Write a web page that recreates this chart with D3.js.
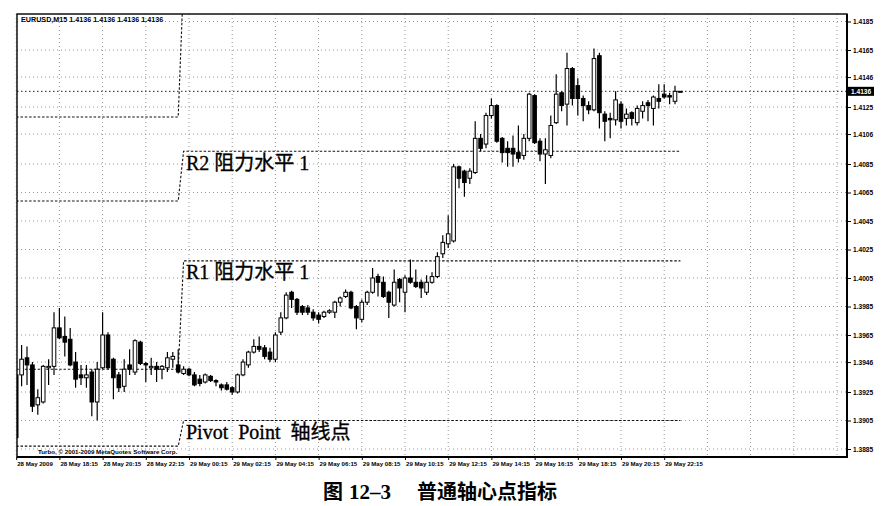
<!DOCTYPE html>
<html>
<head>
<meta charset="utf-8">
<script src="https://cdn.jsdelivr.net/npm/d3@7"></script>
<style>
body{margin:0;background:#fff;}
</style>
</head>
<body>
<div class="chart"></div>
<script>
//candle data, EURUSD M15, 28 May 16:15 -> 29 May 23:00
const opens = [1.3937,1.3937,1.3949,1.3944,1.3916,1.3918,1.3942,1.3943,1.3970,1.3964,
1.3962,1.3946,1.3937,1.3935,1.3939,1.3918,1.3942,1.3965,1.3948,1.3937,
1.3929,1.3944,1.3939,1.3960,1.3945,1.3942,1.3943,1.3941,1.3942,1.3948,
1.3944,1.3938,1.3941,1.3937,1.3934,1.3932,1.3936,1.3933,1.3930,1.3930,
1.3928,1.3925,1.3937,1.3944,1.3953,1.3957,1.3956,1.3953,1.3948,1.3967,
1.3977,1.3995,1.3990,1.3985,1.3984,1.3981,1.3979,1.3978,1.3981,1.3981,
1.3988,1.3992,1.3995,1.3985,1.3976,1.3988,1.3995,1.4006,1.4002,1.3995,
1.3986,1.4004,1.3995,1.4005,1.4002,1.4002,1.3995,1.4002,1.4006,1.4022,
1.4029,1.4031,1.4083,1.4080,1.4075,1.4079,1.4103,1.4099,1.4119,1.4126,
1.4103,1.4096,1.4096,1.4093,1.4091,1.4103,1.4133,1.4101,1.4092,1.4091,
1.4114,1.4135,1.4127,1.4152,1.4140,1.4131,1.4126,1.4123,1.4161,1.4120,
1.4117,1.4116,1.4127,1.4117,1.4121,1.4114,1.4122,1.4128,1.4124,1.4131,
1.4134,1.4133,1.4129,1.4136];
const highs = [1.3939,1.3958,1.3957,1.3946,1.3927,1.3944,1.3948,1.3981,1.3984,1.3978,
1.3970,1.3953,1.3944,1.3944,1.3941,1.3946,1.3981,1.3967,1.3949,1.3939,
1.3948,1.3955,1.3962,1.3961,1.3946,1.3949,1.3946,1.3944,1.3953,1.3953,
1.3955,1.3943,1.3942,1.3939,1.3937,1.3938,1.3937,1.3934,1.3931,1.3932,
1.3929,1.3938,1.3948,1.3954,1.3962,1.3964,1.3958,1.3956,1.3967,1.3981,
1.3995,1.3996,1.3991,1.3986,1.3986,1.3983,1.3981,1.3982,1.3983,1.3989,
1.3992,1.3997,1.3996,1.3986,1.3990,1.3996,1.4012,1.4008,1.4006,1.3996,
1.4011,1.4005,1.4007,1.4018,1.4011,1.4004,1.4007,1.4009,1.4023,1.4035,
1.4049,1.4085,1.4084,1.4081,1.4082,1.4115,1.4106,1.4121,1.4131,1.4127,
1.4104,1.4101,1.4105,1.4112,1.4106,1.4135,1.4134,1.4103,1.4103,1.4119,
1.4148,1.4136,1.4163,1.4153,1.4145,1.4133,1.4129,1.4166,1.4163,1.4122,
1.4121,1.4136,1.4129,1.4124,1.4122,1.4126,1.4129,1.4130,1.4133,1.4141,
1.4141,1.4135,1.4140,1.4136];
const lows = [1.3890,1.3929,1.3930,1.3911,1.3909,1.3917,1.3930,1.3937,1.3962,1.3950,
1.3943,1.3928,1.3930,1.3928,1.3908,1.3905,1.3941,1.3941,1.3920,1.3925,
1.3925,1.3937,1.3937,1.3944,1.3932,1.3937,1.3932,1.3934,1.3939,1.3942,
1.3938,1.3937,1.3936,1.3929,1.3929,1.3931,1.3932,1.3929,1.3926,1.3926,
1.3923,1.3924,1.3936,1.3942,1.3952,1.3953,1.3948,1.3946,1.3946,1.3965,
1.3976,1.3984,1.3979,1.3979,1.3979,1.3975,1.3973,1.3977,1.3980,1.3977,
1.3985,1.3991,1.3983,1.3969,1.3974,1.3986,1.3994,1.3992,1.3991,1.3977,
1.3985,1.3988,1.3981,1.4001,1.3998,1.3991,1.3993,1.4001,1.4005,1.4019,
1.4026,1.4030,1.4068,1.4062,1.4071,1.4078,1.4094,1.4096,1.4117,1.4100,
1.4086,1.4083,1.4083,1.4086,1.4088,1.4101,1.4099,1.4087,1.4071,1.4089,
1.4113,1.4122,1.4112,1.4126,1.4119,1.4115,1.4120,1.4122,1.4110,1.4101,
1.4103,1.4112,1.4110,1.4112,1.4112,1.4112,1.4117,1.4115,1.4112,1.4124,
1.4131,1.4127,1.4127,1.4136];
const closes = [1.3893,1.3948,1.3944,1.3915,1.3921,1.3943,1.3943,1.3970,1.3963,1.3960,
1.3944,1.3934,1.3935,1.3937,1.3918,1.3941,1.3965,1.3942,1.3935,1.3928,
1.3941,1.3941,1.3961,1.3945,1.3944,1.3943,1.3941,1.3943,1.3949,1.3950,
1.3939,1.3941,1.3937,1.3930,1.3931,1.3937,1.3933,1.3932,1.3928,1.3927,
1.3925,1.3937,1.3946,1.3953,1.3957,1.3955,1.3950,1.3948,1.3965,1.3977,
1.3993,1.3990,1.3981,1.3981,1.3981,1.3977,1.3976,1.3981,1.3982,1.3988,
1.3991,1.3995,1.3984,1.3977,1.3988,1.3995,1.4005,1.4002,1.3992,1.3988,
1.4002,1.3998,1.4005,1.4002,1.3999,1.3998,1.4002,1.4006,1.4020,1.4030,
1.4036,1.4083,1.4075,1.4072,1.4080,1.4103,1.4096,1.4119,1.4126,1.4101,
1.4093,1.4093,1.4092,1.4089,1.4103,1.4134,1.4100,1.4092,1.4095,1.4112,
1.4134,1.4126,1.4152,1.4131,1.4131,1.4126,1.4123,1.4159,1.4121,1.4115,
1.4116,1.4130,1.4115,1.4120,1.4117,1.4124,1.4126,1.4126,1.4132,1.4129,
1.4132,1.4132,1.4136,1.4136];

//time axis labels, one every 8 bars (2 hours)
const timeLabels = ["28 May 2009","28 May 18:15","28 May 20:15","28 May 22:15","29 May 00:15",
"29 May 02:15","29 May 04:15","29 May 06:15","29 May 08:15","29 May 10:15","29 May 12:15",
"29 May 14:15","29 May 16:15","29 May 18:15","29 May 20:15","29 May 22:15"];

//price axis labels
const priceTicks = [1.4185,1.4165,1.4146,1.4125,1.4106,1.4085,1.4065,1.4045,1.4025,1.4005,
1.3985,1.3965,1.3946,1.3925,1.3905,1.3885];

//pivot indicator levels: previous day -> new day (first bar of 29 May = index 31)
const levelsPrev = [1.4118, 1.4059, 1.3941, 1.3887];
const levelsNew = [1.4215, 1.4094, 1.4017, 1.3905];
const dayStart = 31;
const lastPrice = 1.4136;

const data = opens.map((o, i) => ({i: i, open: o, high: highs[i], low: lows[i], close: closes[i]}));

//chart frame
const width = 896, height = 506;
const frame = {left: 17, top: 14, right: 847, bottom: 457};

const svg = d3.select('.chart')
    .append('svg')
    .attr('width', width)
    .attr('height', height)
    .style('font-family', "'Liberation Sans', Arial, sans-serif");

//scales
const xScale = d3.scaleLinear()
    .domain([0, 123])
    .range([16.2, 680.4]);

const yScale = d3.scaleLinear()
    .domain([1.3885, 1.4185])
    .range([449, 21.5]);

svg.append('defs').append('clipPath')
    .attr('id', 'clip')
    .append('rect')
    .attr('x', frame.left)
    .attr('y', frame.top)
    .attr('width', frame.right - frame.left)
    .attr('height', frame.bottom - frame.top);

//grid
const gridX = d3.range(0, 153, 8);
svg.append('g')
    .selectAll('line')
    .data(gridX)
    .join('line')
    .attr('x1', d => xScale(d)).attr('x2', d => xScale(d))
    .attr('y1', frame.top).attr('y2', frame.bottom)
    .attr('stroke', '#8a8a8a')
    .attr('stroke-width', 0.9)
    .attr('stroke-dasharray', '1,3');

svg.append('g')
    .selectAll('line')
    .data(priceTicks)
    .join('line')
    .attr('x1', frame.left).attr('x2', frame.right)
    .attr('y1', d => yScale(d)).attr('y2', d => yScale(d))
    .attr('stroke', '#8a8a8a')
    .attr('stroke-width', 0.9)
    .attr('stroke-dasharray', '1,3');

//pivot lines
const pivotLine = d3.line()
    .x(d => xScale(d.i))
    .y(d => yScale(d.v));

const plot = svg.append('g').attr('clip-path', 'url(#clip)');

levelsPrev.forEach((p, k) => {
    const pts = data.map(d => ({i: d.i, v: d.i < dayStart ? p : levelsNew[k]}));
    plot.append('path')
        .datum(pts)
        .attr('fill', 'none')
        .attr('stroke', '#111')
        .attr('stroke-width', 1.1)
        .attr('stroke-dasharray', '2.5,1.8')
        .attr('d', pivotLine);
});

//current price line
plot.append('line')
    .attr('x1', frame.left).attr('x2', frame.right)
    .attr('y1', yScale(lastPrice)).attr('y2', yScale(lastPrice))
    .attr('stroke', '#222')
    .attr('stroke-width', 1)
    .attr('stroke-dasharray', '1.5,2.5');

//candles
const bw = 3.6;
const candle = plot.append('g')
    .selectAll('g')
    .data(data)
    .join('g');

candle.append('line')
    .attr('x1', d => xScale(d.i)).attr('x2', d => xScale(d.i))
    .attr('y1', d => yScale(d.high)).attr('y2', d => yScale(d.low))
    .attr('stroke', '#000')
    .attr('stroke-width', 1.2);

candle.append('rect')
    .attr('x', d => xScale(d.i) - bw / 2)
    .attr('width', bw)
    .attr('y', d => yScale(Math.max(d.open, d.close)))
    .attr('height', d => Math.max(1, Math.abs(yScale(d.open) - yScale(d.close))))
    .attr('fill', d => d.close >= d.open ? '#fff' : '#000')
    .attr('stroke', '#000')
    .attr('stroke-width', 1);

//frame border
svg.append('rect')
    .attr('x', frame.left)
    .attr('y', frame.top)
    .attr('width', frame.right - frame.left)
    .attr('height', frame.bottom - frame.top)
    .attr('fill', 'none')
    .attr('stroke', '#000')
    .attr('stroke-width', 1.4);

svg.append('line')
    .attr('x1', frame.right).attr('x2', frame.right)
    .attr('y1', frame.top).attr('y2', frame.bottom + 1)
    .attr('stroke', '#000').attr('stroke-width', 2);
svg.append('line')
    .attr('x1', frame.left).attr('x2', frame.right)
    .attr('y1', frame.bottom).attr('y2', frame.bottom)
    .attr('stroke', '#000').attr('stroke-width', 2);

//price axis on the right
const yAxis = g => g
    .attr('transform', `translate(${frame.right},0)`)
    .call(d3.axisRight(yScale).tickValues(priceTicks).tickFormat(d3.format('.4f')).tickSize(4).tickPadding(2))
    .call(g => g.select('.domain').remove())
    .call(g => g.selectAll('.tick text')
        .attr('font-size', 6.6)
        .attr('font-weight', 'bold')
        .attr('font-family', "'Liberation Sans', Arial, sans-serif")
        .attr('fill', '#000'));

svg.append('g').call(yAxis);

//current price tag
const tagY = yScale(lastPrice);
svg.append('rect')
    .attr('x', frame.right + 1)
    .attr('y', tagY - 4.5)
    .attr('width', 26)
    .attr('height', 9)
    .attr('fill', '#000');
svg.append('text')
    .attr('x', frame.right + 4)
    .attr('y', tagY + 2.4)
    .attr('font-size', 6.6)
    .attr('font-weight', 'bold')
    .attr('fill', '#fff')
    .text(d3.format('.4f')(lastPrice));

//time axis at the bottom
const xAxis = g => g
    .attr('transform', `translate(0,${frame.bottom})`)
    .call(d3.axisBottom(xScale)
        .tickValues(timeLabels.map((t, k) => k * 8))
        .tickFormat((d, k) => timeLabels[k])
        .tickSize(3)
        .tickPadding(2))
    .call(g => g.select('.domain').remove())
    .call(g => g.selectAll('.tick text')
        .attr('text-anchor', 'start')
        .attr('dx', '0.5')
        .attr('font-size', 6.1)
        .attr('font-weight', 'bold')
        .attr('font-family', "'Liberation Sans', Arial, sans-serif")
        .attr('fill', '#000'));

svg.append('g').call(xAxis);

//chart header and watermark
svg.append('text')
    .attr('x', 21)
    .attr('y', 22)
    .attr('font-size', 7.2)
    .attr('font-weight', 'bold')
    .text('EURUSD,M15  ' + [opens[123], highs[123], lows[123], closes[123]].map(d3.format('.4f')).join(' '));

svg.append('text')
    .attr('x', 38)
    .attr('y', 454)
    .attr('font-size', 6.2)
    .attr('font-weight', 'bold')
    .text('Turbo, © 2001-2009 MetaQuotes Software Corp.');

//annotation labels
const serif = "'Liberation Serif', 'Noto Sans CJK SC', serif";
const notes = [
    {text: 'R2 阻力水平 1', x: 186, y: yScale(levelsNew[1]) + 19},
    {text: 'R1 阻力水平 1', x: 186, y: yScale(levelsNew[2]) + 18},
    {text: 'Pivot  Point  轴线点', x: 186, y: yScale(levelsNew[3]) + 18}
];

svg.append('g')
    .selectAll('text')
    .data(notes)
    .join('text')
    .attr('x', d => d.x)
    .attr('y', d => d.y)
    .attr('font-family', serif)
    .attr('font-size', 20)
    .attr('fill', '#000')
    .attr('stroke', '#000')
    .attr('stroke-width', 0.35)
    .style('white-space', 'pre')
    .text(d => d.text);

//figure caption
svg.append('text')
    .attr('x', 323)
    .attr('y', 499)
    .attr('font-family', "'Noto Sans CJK SC', sans-serif")
    .attr('font-weight', 'bold')
    .attr('font-size', 20)
    .text('图');
svg.append('text')
    .attr('x', 349)
    .attr('y', 499)
    .attr('font-family', "'Liberation Serif', serif")
    .attr('font-weight', 'bold')
    .attr('font-size', 21)
    .text('12–3');
svg.append('text')
    .attr('x', 417)
    .attr('y', 499)
    .attr('font-family', "'Noto Sans CJK SC', sans-serif")
    .attr('font-weight', 'bold')
    .attr('font-size', 20)
    .text('普通轴心点指标');
</script>
</body>
</html>
